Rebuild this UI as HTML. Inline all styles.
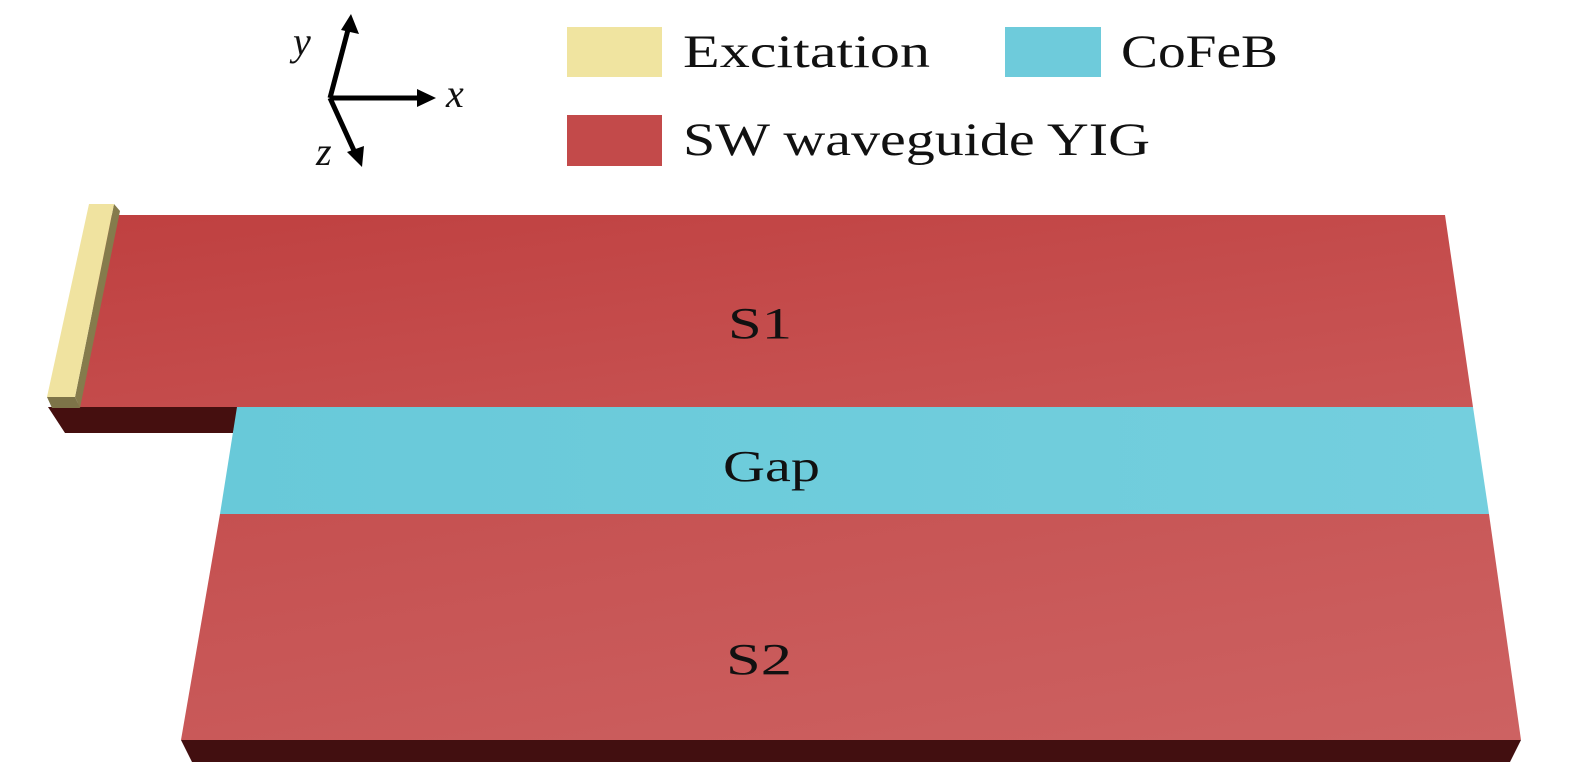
<!DOCTYPE html>
<html><head><meta charset="utf-8"><style>
html,body{margin:0;padding:0;background:#fff;width:1575px;height:778px;overflow:hidden}
svg{display:block}
text{font-family:"Liberation Serif",serif;fill:#111}
</style></head><body>
<svg width="1575" height="778" viewBox="0 0 1575 778">
<defs>
<linearGradient id="g1" x1="0" y1="0" x2="1" y2="1"><stop offset="0" stop-color="#bf4040"/><stop offset="1" stop-color="#c95656"/></linearGradient>
<linearGradient id="g2" x1="0" y1="0" x2="1" y2="1"><stop offset="0" stop-color="#c55050"/><stop offset="1" stop-color="#cd6262"/></linearGradient>
<linearGradient id="gc" x1="0" y1="0" x2="1" y2="0"><stop offset="0" stop-color="#68c9d9"/><stop offset="1" stop-color="#74cfde"/></linearGradient>
</defs>
<g>
<line x1="330" y1="98" x2="349" y2="26" stroke="#000" stroke-width="5"/>
<path d="M351,14 L359,34 L341,30 Z" fill="#000"/>
<line x1="330" y1="98" x2="422" y2="98" stroke="#000" stroke-width="5"/>
<path d="M436,98 L417,107 L417,89 Z" fill="#000"/>
<line x1="330" y1="98" x2="356" y2="155" stroke="#000" stroke-width="5"/>
<path d="M362,167 L347,152 L364,146 Z" fill="#000"/>
<text x="293" y="55" font-size="40" font-style="italic">y</text>
<text x="446" y="107" font-size="40" font-style="italic">x</text>
<text x="316" y="165" font-size="40" font-style="italic">z</text>
</g>
<g>
<rect x="567" y="27" width="95" height="50" fill="#f0e4a0"/>
<text x="683" y="67" font-size="47" textLength="247" lengthAdjust="spacingAndGlyphs">Excitation</text>
<rect x="1005" y="27" width="96" height="50" fill="#6ecbdb"/>
<text x="1121" y="67" font-size="47" textLength="157" lengthAdjust="spacingAndGlyphs">CoFeB</text>
<rect x="567" y="115" width="95" height="51" fill="#c34a4a"/>
<text x="683" y="155" font-size="47" textLength="467" lengthAdjust="spacingAndGlyphs">SW waveguide YIG</text>
</g>
<path d="M48,407 L238,407 L233,433 L65,433 Z" fill="#450f0f"/>
<path d="M108,215 L1445,215 L1473,407 L77,407 Z" fill="url(#g1)"/>
<path d="M237,407 L1473,407 L1489,514 L220,514 Z" fill="url(#gc)"/>
<path d="M220,514 L1489,514 L1521,740 L181,740 Z" fill="url(#g2)"/>
<path d="M181,740 L1521,740 L1510,762 L192,762 Z" fill="#420f10"/>
<g>
<path d="M114,204 L120,211 L80,408 L75,397 Z" fill="#857b4c"/>
<path d="M47,397 L75,397 L80,408 L52,408 Z" fill="#7d7448"/>
<path d="M89,204 L114,204 L75,397 L47,397 Z" fill="#f0e3a0"/>
</g>
<text x="728" y="338" font-size="44" textLength="64" lengthAdjust="spacingAndGlyphs">S1</text>
<text x="723" y="481" font-size="44" textLength="97" lengthAdjust="spacingAndGlyphs">Gap</text>
<text x="726" y="674" font-size="44" textLength="66" lengthAdjust="spacingAndGlyphs">S2</text>
</svg>
</body></html>
